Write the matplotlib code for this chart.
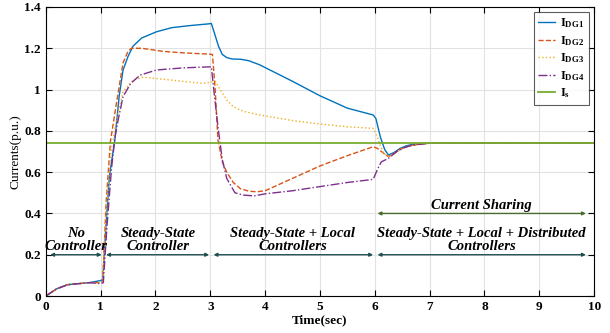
import numpy as np
import matplotlib.pyplot as plt

plt.rcParams['font.family'] = ['Liberation Serif', 'DejaVu Serif']
plt.rcParams['mathtext.fontset'] = 'custom'
plt.rcParams['mathtext.rm'] = 'Liberation Serif'
plt.rcParams['mathtext.bf'] = 'Liberation Serif:bold'

# start-up segment shared by all units
t0 = [0.0, 0.2, 0.4, 0.6, 0.8]
v0 = [0.0, 0.035, 0.055, 0.06, 0.065]

t_dg1 = t0 + [1.0, 1.04, 1.1, 1.16, 1.26, 1.34, 1.41, 1.5, 1.59, 1.75, 2.02, 2.3, 2.63, 2.96,
              3.02, 3.08, 3.15, 3.22, 3.3, 3.4, 3.55, 3.7, 3.9, 4.2, 4.5, 5.0, 5.5, 5.97,
              6.02, 6.1, 6.18, 6.25, 6.35, 6.46, 6.58, 6.7, 6.95, 10.0]
i_dg1 = v0 + [0.075, 0.08, 0.35, 0.58, 0.756, 0.97, 1.095, 1.16, 1.21, 1.25, 1.28, 1.30, 1.31,
              1.318, 1.32, 1.27, 1.21, 1.17, 1.155, 1.148, 1.147, 1.14, 1.12, 1.08, 1.04, 0.97,
              0.91, 0.877, 0.86, 0.772, 0.71, 0.683, 0.695, 0.715, 0.728, 0.735, 0.74, 0.74]

t_dg2 = t0 + [1.0, 1.04, 1.1, 1.18, 1.29, 1.41, 1.5, 1.56, 1.75, 2.14, 2.5, 2.96, 3.04, 3.09,
              3.14, 3.22, 3.3, 3.42, 3.55, 3.7, 3.85, 4.0, 4.5, 5.0, 5.5, 5.97, 6.05, 6.12,
              6.25, 6.35, 6.46, 6.6, 6.8, 7.0, 10.0]
i_dg2 = v0 + [0.065, 0.07, 0.45, 0.75, 0.935, 1.13, 1.185, 1.2, 1.2, 1.185, 1.178, 1.172, 1.17,
              1.0, 0.756, 0.65, 0.6, 0.55, 0.52, 0.508, 0.505, 0.51, 0.57, 0.63, 0.68, 0.723,
              0.715, 0.7, 0.675, 0.69, 0.71, 0.725, 0.735, 0.74, 0.74]

t_dg3 = t0 + [1.0, 1.04, 1.1, 1.18, 1.29, 1.41, 1.6, 1.78, 2.32, 2.86, 3.0, 3.09, 3.18, 3.3,
              3.42, 3.6, 3.9, 4.5, 5.0, 5.5, 5.97, 6.03, 6.1, 6.16, 6.25, 6.35, 6.46, 6.6,
              6.8, 7.0, 10.0]
i_dg3 = v0 + [0.065, 0.07, 0.4, 0.68, 0.853, 0.99, 1.047, 1.06, 1.045, 1.03, 1.035, 1.04, 1.0,
              0.95, 0.917, 0.895, 0.877, 0.85, 0.833, 0.82, 0.812, 0.78, 0.73, 0.69, 0.676,
              0.69, 0.71, 0.725, 0.735, 0.74, 0.74]

t_dg4 = t0 + [1.0, 1.05, 1.12, 1.2, 1.26, 1.32, 1.41, 1.55, 1.72, 2.02, 2.5, 2.96, 3.02, 3.08,
              3.15, 3.22, 3.3, 3.45, 3.6, 3.8, 4.0, 4.5, 5.0, 5.5, 5.97, 6.06, 6.12, 6.25,
              6.4, 6.55, 6.7, 7.0, 10.0]
i_dg4 = v0 + [0.06, 0.065, 0.35, 0.62, 0.765, 0.853, 0.966, 1.03, 1.07, 1.095, 1.105, 1.11,
              1.11, 0.96, 0.80, 0.66, 0.57, 0.50, 0.489, 0.485, 0.495, 0.51, 0.53, 0.55,
              0.565, 0.62, 0.65, 0.667, 0.70, 0.72, 0.732, 0.74, 0.74]

t_s = [0.0, 10.0]
i_s = [0.74, 0.74]

fig = plt.figure(figsize=(6.10, 3.33), dpi=100)
ax = fig.add_axes([0.075, 0.111, 0.899, 0.868])

ax.plot(t_dg1, i_dg1, color='#0072BD', lw=1.0, label=r'$\mathbf{I_{DG1}}$')
ax.plot(t_dg2, i_dg2, color='#D95319', lw=1.0, ls='--', label=r'$\mathbf{I_{DG2}}$')
ax.plot(t_dg3, i_dg3, color='#EDB120', lw=1.0, ls=':', label=r'$\mathbf{I_{DG3}}$')
ax.plot(t_dg4, i_dg4, color='#7E2F8E', lw=1.0, ls='-.', label=r'$\mathbf{I_{DG4}}$')
ax.plot(t_s, i_s, color='#77AC30', lw=1.3, label=r'$\mathbf{I_s}$')

ax.set_xlim(0, 10)
ax.set_ylim(0, 1.4)
ax.set_xticks(range(11))
ax.set_yticks([0, 0.2, 0.4, 0.6, 0.8, 1, 1.2, 1.4])
ax.set_yticklabels(['0', '0.2', '0.4', '0.6', '0.8', '1', '1.2', '1.4'])
ax.tick_params(direction='in', top=True, right=True, labelsize=9.5, length=4)
for lab in ax.get_xticklabels() + ax.get_yticklabels():
    lab.set_fontweight('bold')
ax.grid(True, color='#e2e2e2', lw=0.8)
ax.set_axisbelow(True)
ax.set_xlabel('Time(sec)', fontsize=9.5, fontweight='bold', labelpad=1)
ax.set_ylabel('Currents(p.u.)', fontsize=9.5, labelpad=2)

# stage arrows
teal = '#1e4f50'
spans = [(0.08, 1.02), (1.1, 2.98), (3.06, 5.97), (6.05, 9.85)]
for a, b in spans:
    ax.annotate('', xy=(a, 0.2), xytext=(b, 0.2),
                arrowprops=dict(arrowstyle='<|-|>', color=teal, lw=1.0, mutation_scale=5,
                                shrinkA=0, shrinkB=0))
ax.annotate('', xy=(6.05, 0.4), xytext=(9.85, 0.4),
            arrowprops=dict(arrowstyle='<|-|>', color='#4a6b30', lw=1.0, mutation_scale=5,
                            shrinkA=0, shrinkB=0))

tk = dict(fontsize=10.5, fontweight='bold', fontstyle='italic', ha='center', va='baseline',
          linespacing=1.0)
ax.text(0.55, 0.222, 'No\nController', **tk)
ax.text(2.05, 0.222, 'Steady-State\nController', **tk)
ax.text(4.5, 0.222, 'Steady-State + Local\nControllers', **tk)
ax.text(7.95, 0.222, 'Steady-State + Local + Distributed\nControllers', **tk)
ax.text(7.95, 0.422, 'Current Sharing', **tk)

leg = ax.legend(loc='upper right', fontsize=9, frameon=True, fancybox=False,
                edgecolor='#333333', handlelength=1.4, handletextpad=0.4, borderpad=0.35,
                labelspacing=0.3, borderaxespad=0.4)
leg.get_frame().set_linewidth(0.8)

plt.savefig('out.png', dpi=100)
